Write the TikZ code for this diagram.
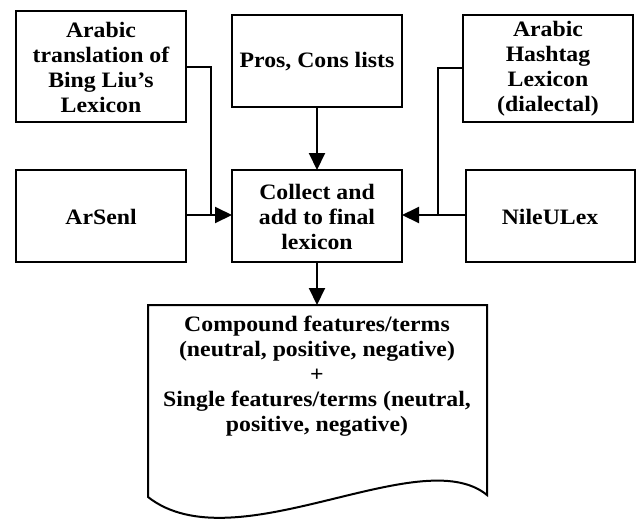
\documentclass[tikz,border=0pt]{standalone}
\usepackage{fontspec}
\setmainfont{Liberation Serif}[FakeStretch=1.08]
\usetikzlibrary{arrows.meta}
\begin{document}
\begin{tikzpicture}[x=1pt,y=-1pt,
  box/.style={draw=black,line width=2pt},
  txt/.style={align=center,font=\fontsize{22}{25}\selectfont\bfseries,inner sep=0pt},
  conn/.style={line width=2pt,-{Triangle[length=17pt,width=16pt]}},
  plain/.style={line width=2pt}]
\useasboundingbox (0,0) rectangle (637,520);
% boxes
\draw[box] (16,11) rectangle (186,122);
\node[txt] (t1) at (101,67) {Arabic\\translation of\\Bing Liu’s\\Lexicon};
\draw[box] (232,15) rectangle (402,107);
\node[txt] (t2) at (317,62) {Pros, Cons lists};
\draw[box] (463,15) rectangle (633,122);
\node[txt] (t3) at (548,69) {Arabic\\Hashtag\\Lexicon\\(dialectal)};
\draw[box] (16,170) rectangle (186,262);
\node[txt] (t4) at (101,217) {ArSenl};
\draw[box] (232,170) rectangle (402,262);
\node[txt] (t5) at (317,217) {Collect and\\add to final\\lexicon};
\draw[box] (466,170) rectangle (635,262);
\node[txt] (t6) at (550,217) {NileULex};
% named anchors
\coordinate (a1) at (186,67);
\coordinate (j1) at (211,215);
\coordinate (a3) at (463,68);
\coordinate (j3) at (438,215);
\coordinate (a4) at (186,215);
\coordinate (c5l) at (232,215);
\coordinate (c5r) at (402,215);
\coordinate (a6) at (466,215);
\coordinate (p2) at (317,107);
\coordinate (c5t) at (317,170);
\coordinate (c5b) at (317,262);
\coordinate (dt) at (317,305);
% document shape
\draw[box,line join=miter] (148,305) -- (487,305) -- (487,495)
  .. controls (420,440) and (235,565) .. (148,497) -- cycle;
\node[txt] (t7) at (317,376) {Compound features/terms\\(neutral, positive, negative)\\+\\Single features/terms (neutral,\\positive, negative)};
% connectors
\draw[plain] (a1) -| (j1);
\draw[conn] (a4) -- (c5l);
\draw[plain] (a3) -| (j3);
\draw[conn] (a6) -- (c5r);
\draw[conn] (p2) -- (c5t);
\draw[conn] (c5b) -- (dt);
\end{tikzpicture}
\end{document}
